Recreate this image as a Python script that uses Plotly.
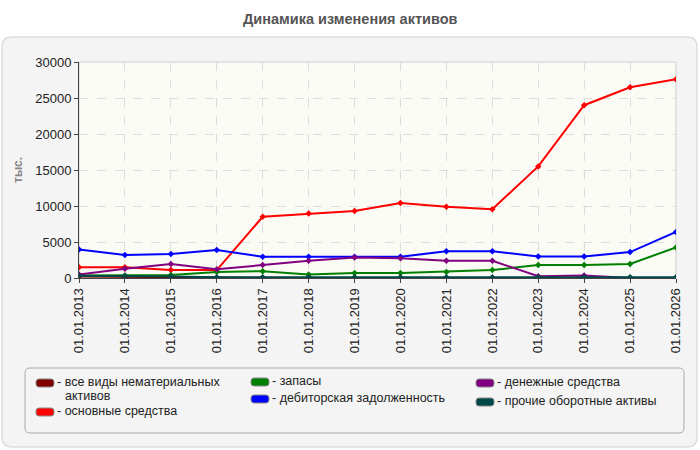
import plotly.graph_objects as go

years = ["01.01.2013", "01.01.2014", "01.01.2015", "01.01.2016", "01.01.2017", "01.01.2018", "01.01.2019",
         "01.01.2020", "01.01.2021", "01.01.2022", "01.01.2023", "01.01.2024", "01.01.2025", "01.01.2026"]

intangible = [200, 150, 50, 0, 0, 0, 0, 0, 0, 0, 0, 0, 0, 0]
fixed_assets = [1500, 1500, 1100, 1100, 8500, 8950, 9300, 10400, 9900, 9550, 15500, 24000, 26500, 27600]
inventories = [350, 350, 400, 850, 950, 500, 700, 700, 850, 1100, 1800, 1800, 1950, 4250]
receivables = [3950, 3200, 3350, 3900, 2950, 2950, 2950, 2950, 3700, 3700, 3000, 3000, 3600, 6400]
cash = [500, 1300, 1950, 1200, 1800, 2400, 2850, 2750, 2400, 2400, 250, 350, 0, 0]
other_current = [300, 300, 200, 100, 100, 100, 100, 100, 100, 100, 100, 100, 100, 100]

names = ["все виды нематериальных активов", "основные средства", "запасы",
         "дебиторская задолженность", "денежные средства", "прочие оборотные активы"]
legend_lines = [["- все виды нематериальных", "активов"], ["- основные средства"], ["- запасы"],
                ["- дебиторская задолженность"], ["- денежные средства"], ["- прочие оборотные активы"]]
colors = ["#800000", "#ff0000", "#008000", "#0000ff", "#800080", "#004848"]
series = [intangible, fixed_assets, inventories, receivables, cash, other_current]
y_ticks = [0, 5000, 10000, 15000, 20000, 25000, 30000]

FONT = "Liberation Sans, Arial, sans-serif"
W, H = 700, 450
L, R, T, B = 79, 676, 62, 278

def px(x):
    return (x - L) / (R - L)

def py(y):
    return (B - y) / (B - T)

def rounded(x0, x1, y0, y1, r):
    return (f"M {px(x0+r)} {py(y0)} L {px(x1-r)} {py(y0)} Q {px(x1)} {py(y0)} {px(x1)} {py(y0+r)} "
            f"L {px(x1)} {py(y1-r)} Q {px(x1)} {py(y1)} {px(x1-r)} {py(y1)} "
            f"L {px(x0+r)} {py(y1)} Q {px(x0)} {py(y1)} {px(x0)} {py(y1-r)} "
            f"L {px(x0)} {py(y0+r)} Q {px(x0)} {py(y0)} {px(x0+r)} {py(y0)} Z")

fig = go.Figure()
for vals, name, col in zip(series, names, colors):
    fig.add_trace(go.Scatter(
        x=years, y=vals, mode="lines+markers", name=name,
        line=dict(color=col, width=2),
        marker=dict(symbol="diamond", size=5, color=col),
        showlegend=False,
    ))

shapes = []
shapes.append(dict(type="path", xref="paper", yref="paper", path=rounded(2, 697, 37, 447, 10),
                   fillcolor="#f4f4f4", line=dict(color="#dddddd", width=1.5), layer="below"))
shapes.append(dict(type="rect", xref="paper", yref="paper", x0=0, x1=1, y0=0, y1=1,
                   fillcolor="#fbfbf5", line=dict(color="#dddddd", width=1.5), layer="below"))
shapes.append(dict(type="path", xref="paper", yref="paper", path=rounded(25, 684, 368, 433, 5),
                   fillcolor="#f4f4f4", line=dict(color="#aaaaaa", width=1)))

annotations = []
legend_pos = [(36, 383), (36, 412), (251, 382), (251, 399), (476, 383), (476, 402)]
for (sx, sy), lines, col in zip(legend_pos, legend_lines, colors):
    sw, sh = 18, 8
    shapes.append(dict(type="path", xref="paper", yref="paper",
                       path=rounded(sx, sx + sw, sy - sh / 2, sy + sh / 2, 3),
                       fillcolor=col, line=dict(color="#888888", width=1)))
    for i, ln in enumerate(lines):
        xoff = sx + sw + 2 if i == 0 else sx + sw + 10
        annotations.append(dict(xref="paper", yref="paper", x=px(xoff), y=py(sy - 1 + 14 * i),
                                xanchor="left", yanchor="middle", align="left", showarrow=False,
                                borderpad=0,
                                text=ln, font=dict(family=FONT, size=12.5, color="#222222")))

annotations.append(dict(xref="paper", yref="paper", x=px(350), y=py(19), xanchor="center",
                        yanchor="middle", showarrow=False, text="<b>Динамика изменения активов</b>",
                        font=dict(family=FONT, size=14.5, color="#555555")))
annotations.append(dict(xref="paper", yref="paper", x=px(18), y=py(170), xanchor="center",
                        yanchor="middle", showarrow=False, text="<b>тыс.</b>", textangle=-90,
                        font=dict(family=FONT, size=12, color="#888888")))

fig.update_layout(
    width=W, height=H,
    margin=dict(l=L, r=W - R, t=T, b=H - B),
    paper_bgcolor="white", plot_bgcolor="rgba(0,0,0,0)",
    font=dict(family=FONT, size=13, color="#222222"),
    shapes=shapes, annotations=annotations,
    xaxis=dict(type="category", range=[0, len(years) - 1], tickangle=-90,
               showgrid=True, gridcolor="#dddddd", griddash="dash", gridwidth=1,
               showline=True, linecolor="#444444", linewidth=1,
               ticks="outside", ticklen=4, tickcolor="#444444",
               tickfont=dict(family=FONT, size=13, color="#222222"), zeroline=False),
    yaxis=dict(range=[0, 30000], tickvals=y_ticks, ticktext=[str(v) for v in y_ticks],
               showgrid=True, gridcolor="#dddddd", griddash="dash", gridwidth=1,
               showline=True, linecolor="#444444", linewidth=1,
               ticks="outside", ticklen=4, tickcolor="#444444",
               tickfont=dict(family=FONT, size=13, color="#222222"), zeroline=False),
)

fig.write_html("out.html")
